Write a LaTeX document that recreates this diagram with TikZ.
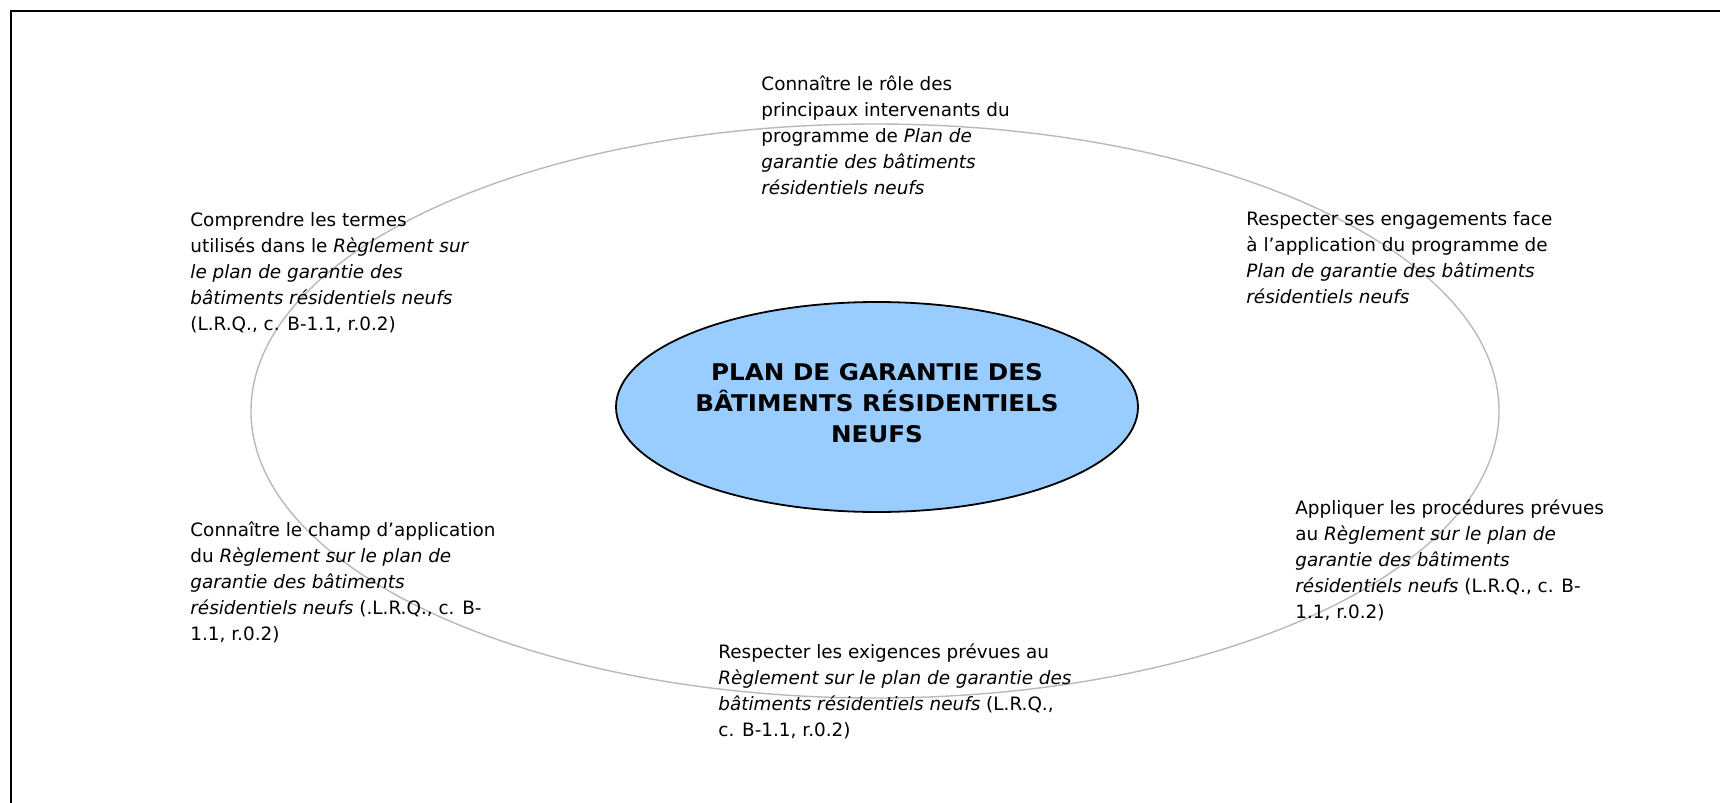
\documentclass[tikz,border=0pt]{standalone}
\usepackage{fontspec}
\setmainfont{DejaVu Sans}
\newfontfamily\titlefont{DejaVu Sans}[FakeStretch=1.07]
\usetikzlibrary{shapes.geometric}
\definecolor{RingColor}{RGB}{185,185,185}
\definecolor{PlanColor}{RGB}{153,204,255}
\tikzstyle{ring} = [ellipse, draw=RingColor, line width=0.7pt, minimum width=624pt, minimum height=287pt, inner sep=0pt]
\tikzstyle{plan} = [ellipse, draw=black, line width=0.9pt, fill=PlanColor, minimum width=261pt, minimum height=105pt, inner sep=0pt, align=center, font=\titlefont\bfseries\fontsize{11.5pt}{15.5pt}\selectfont]
\tikzstyle{goal} = [anchor=base west, inner sep=0pt, align=left, font=\fontsize{9.2pt}{13pt}\selectfont]

\begin{document}
\begin{tikzpicture}[x=0.5pt, y=-0.5pt]
      \useasboundingbox (0,0) rectangle (1720,803);

      % Frame
      \draw[line width=1pt] (11,803) -- (11,11) -- (1720,11);

      % Outer ring
      \node[ring] (ring) at (875,411) {};

      % Central concept
      \node[plan] (plan) at (877,407) {
        PLAN DE GARANTIE DES\\
        BÂTIMENTS RÉSIDENTIELS\\
        NEUFS\rule[-4pt]{0pt}{0pt}
      };

      % Objectives around the ring (base = last line)
      \node[goal] (roles) at (761,194) {
        Connaître le rôle des\\
        principaux intervenants du\\
        programme de \textit{Plan de}\\
        \textit{garantie des bâtiments}\\
        \textit{résidentiels neufs}
      };

      \node[goal] (terms) at (190,330) {
        Comprendre les termes\\
        utilisés dans le \textit{Règlement sur}\\
        \textit{le plan de garantie des}\\
        \textit{bâtiments résidentiels neufs}\\
        (L.R.Q., c. B-1.1, r.0.2)
      };

      \node[goal] (duties) at (1246,303) {
        Respecter ses engagements face\\
        à l’application du programme de\\
        \textit{Plan de garantie des bâtiments}\\
        \textit{résidentiels neufs}
      };

      \node[goal] (scope) at (190,640) {
        Connaître le champ d’application\\
        du \textit{Règlement sur le plan de}\\
        \textit{garantie des bâtiments}\\
        \textit{résidentiels neufs} (.L.R.Q., c. B-\\
        1.1, r.0.2)
      };

      \node[goal] (steps) at (1295,618) {
        Appliquer les procédures prévues\\
        au \textit{Règlement sur le plan de}\\
        \textit{garantie des bâtiments}\\
        \textit{résidentiels neufs} (L.R.Q., c. B-\\
        1.1, r.0.2)
      };

      \node[goal] (rules) at (718,736) {
        Respecter les exigences prévues au\\
        \textit{Règlement sur le plan de garantie des}\\
        \textit{bâtiments résidentiels neufs} (L.R.Q.,\\
        c. B-1.1, r.0.2)
      };
\end{tikzpicture}
\end{document}
